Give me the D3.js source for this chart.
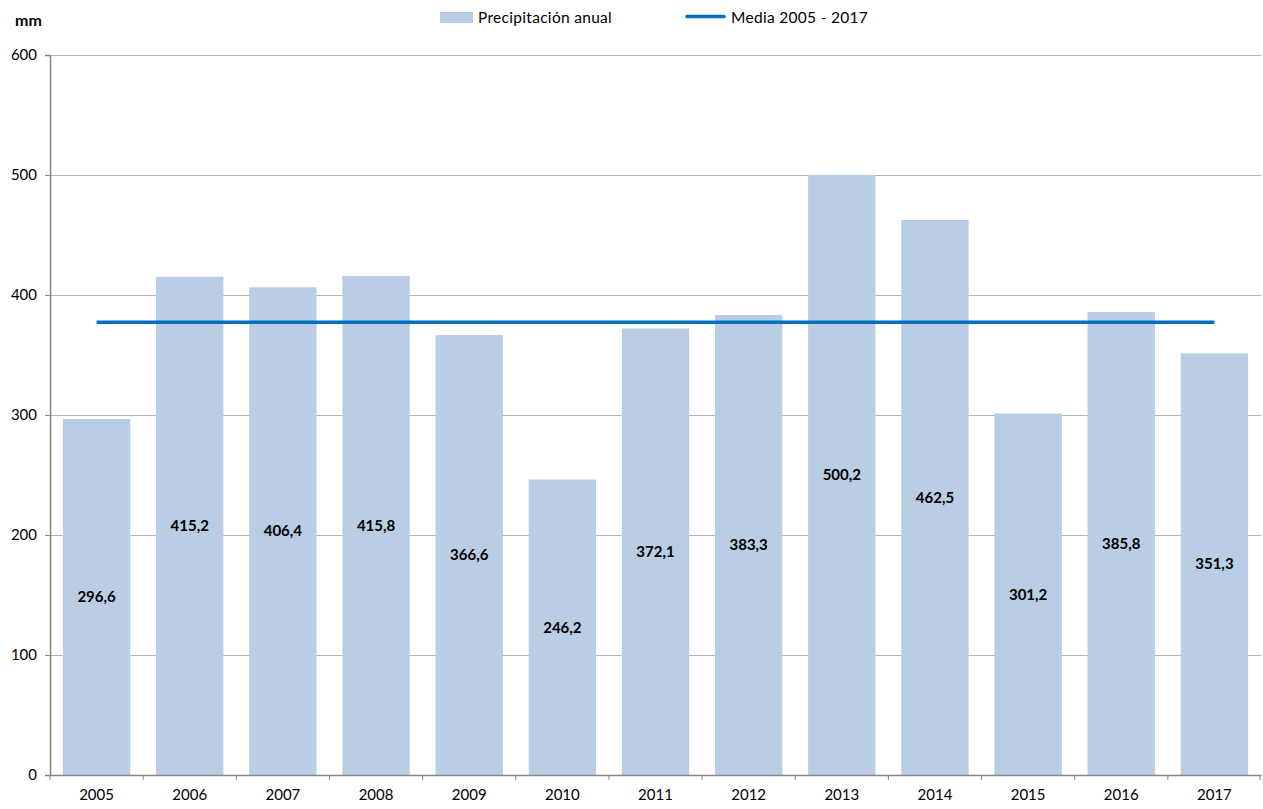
<!DOCTYPE html>
<html>
<head>
<meta charset="utf-8">
<script src="https://cdn.jsdelivr.net/npm/d3@7"></script>
<style>
  body { margin: 0; background: #fff; }
  svg { display: block; font-family: Lato, "Open Sans", sans-serif; }
</style>
</head>
<body>
<svg id="chart"></svg>
<script>
var years = ["2005", "2006", "2007", "2008", "2009", "2010", "2011", "2012", "2013", "2014", "2015", "2016", "2017"];
var precipitation = [296.6, 415.2, 406.4, 415.8, 366.6, 246.2, 372.1, 383.3, 500.2, 462.5, 301.2, 385.8, 351.3];
var meanValue = [377.2];
var yTicks = [0, 100, 200, 300, 400, 500, 600];

var width = 1263, height = 809;
var margin = {top: 55, right: 2, bottom: 34, left: 50};

var svg = d3.select("#chart")
    .attr("width", width)
    .attr("height", height);

var x = d3.scaleBand()
    .domain(years)
    .range([margin.left, width - margin.right])
    .paddingInner(0.277)
    .paddingOuter(0.1385);

var y = d3.scaleLinear()
    .domain([0, 600])
    .range([height - margin.bottom, margin.top]);

// grid
svg.append("g")
    .selectAll("line")
    .data(yTicks.filter(d => d > 0))
    .enter()
    .append("line")
    .attr("x1", margin.left)
    .attr("x2", width - margin.right)
    .attr("y1", d => y(d) + 0.5)
    .attr("y2", d => y(d) + 0.5)
    .attr("stroke", "#b3b3b3")
    .attr("stroke-width", 1);

// bars
svg.append("g")
    .selectAll("rect")
    .data(precipitation)
    .enter()
    .append("rect")
    .attr("x", (d, i) => x(years[i]))
    .attr("width", x.bandwidth())
    .attr("y", d => y(d))
    .attr("height", d => y(0) - y(d))
    .attr("fill", "#b9cde5");

// value labels
svg.append("g")
    .selectAll("text")
    .data(precipitation)
    .enter()
    .append("text")
    .attr("x", (d, i) => x(years[i]) + x.bandwidth() / 2)
    .attr("y", d => y(d / 2))
    .attr("dy", "0.35em")
    .attr("text-anchor", "middle")
    .attr("font-size", "15px")
    .attr("font-weight", "bold")
    .attr("fill", "#000")
    .text(d => d.toFixed(1).replace(".", ","));

// mean line
var first = years[0], last = years[years.length - 1];
svg.append("line")
    .attr("x1", x(first) + x.bandwidth() / 2)
    .attr("x2", x(last) + x.bandwidth() / 2)
    .attr("y1", y(meanValue[0]))
    .attr("y2", y(meanValue[0]))
    .attr("stroke", "#0070c0")
    .attr("stroke-width", 3.5);

// y axis
var yAxis = svg.append("g")
    .attr("transform", "translate(" + margin.left + ",0)")
    .call(d3.axisLeft(y).tickValues(yTicks).tickSize(5).tickPadding(8).tickFormat(d3.format("d")));
yAxis.select(".domain").attr("stroke", "#868686").attr("stroke-width", 1.5);
yAxis.selectAll(".tick line").attr("stroke", "#868686");
yAxis.selectAll(".tick text").attr("font-size", "15px").attr("fill", "#000").attr("font-family", "Lato, sans-serif");

// x axis
var xAxis = svg.append("g")
    .attr("transform", "translate(0," + y(0) + ")")
    .call(d3.axisBottom(x).tickSize(0).tickPadding(14));
xAxis.select(".domain").attr("stroke", "#868686").attr("stroke-width", 1.5);
xAxis.selectAll(".tick text").attr("font-size", "15px").attr("fill", "#000").attr("font-family", "Lato, sans-serif");

// category separators
var step = x.step();
var bounds = years.map((d, i) => x(d) - x.paddingInner() * step / 2);
bounds.push(width - margin.right - 1);
xAxis.selectAll(".sep")
    .data(bounds)
    .enter()
    .append("line")
    .attr("x1", d => d)
    .attr("x2", d => d)
    .attr("y1", 0)
    .attr("y2", 5)
    .attr("stroke", "#868686");

// unit
svg.append("text")
    .attr("x", 15)
    .attr("y", 26)
    .attr("font-size", "16px")
    .attr("font-weight", "bold")
    .text("mm");

// legend
var legend = svg.append("g").attr("font-size", "15.5px");
legend.append("rect")
    .attr("x", 440).attr("y", 12)
    .attr("width", 33).attr("height", 11)
    .attr("fill", "#b9cde5");
legend.append("text")
    .attr("x", 478).attr("y", 23)
    .attr("letter-spacing", "0.3px")
    .text("Precipitación anual");
legend.append("line")
    .attr("x1", 687).attr("x2", 724)
    .attr("y1", 16.5).attr("y2", 16.5)
    .attr("stroke", "#0070c0")
    .attr("stroke-width", 3.5)
    .attr("stroke-linecap", "round");
legend.append("text")
    .attr("x", 731).attr("y", 23)
    .attr("letter-spacing", "0.3px")
    .text("Media 2005 - 2017");
</script>
</body>
</html>
